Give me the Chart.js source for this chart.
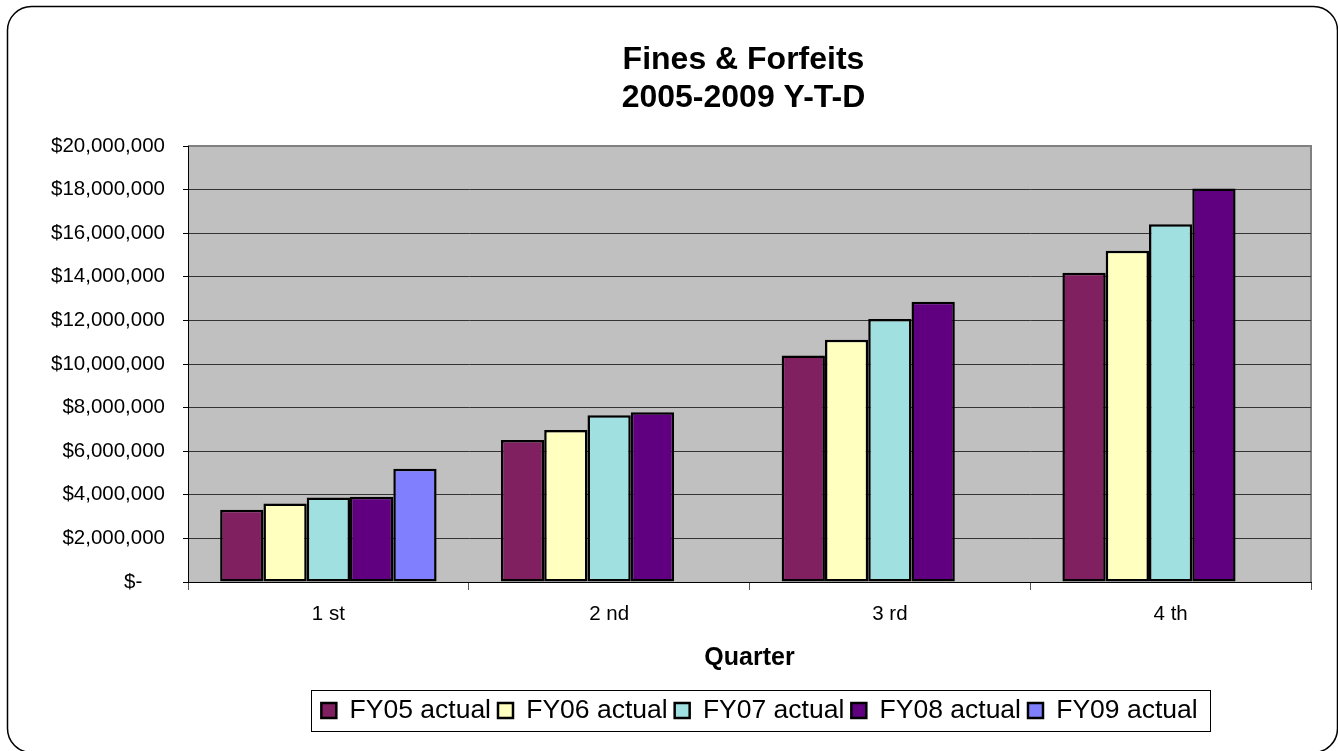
<!DOCTYPE html>
<html>
<head>
<meta charset="utf-8">
<title>Fines &amp; Forfeits</title>
<script src="https://cdn.jsdelivr.net/npm/chart.js@4"></script>
<style>
  html, body { margin: 0; padding: 0; background: #fff; }
  canvas { display: block; }
</style>
</head>
<body>
<canvas id="finesChart" width="1338" height="751"></canvas>
<script>
// Year-to-date totals per quarter, in dollars
const quarters = ['1 st', '2 nd', '3 rd', '4 th'];
const fy05 = [3310000, 6510000, 10390000, 14190000];
const fy06 = [3600000, 6970000, 11110000, 15190000];
const fy07 = [3880000, 7650000, 12060000, 16410000];
const fy08 = [3910000, 7790000, 12860000, 18050000];
const fy09 = [5200000, null, null, null];

const seriesNames = ['FY05 actual', 'FY06 actual', 'FY07 actual', 'FY08 actual', 'FY09 actual'];
const seriesColors = ['#802060', '#ffffc0', '#a0e0e0', '#600080', '#8080ff'];
const titleLines = ['Fines & Forfeits', '2005-2009 Y-T-D'];
const yMax = 20000000;
const yStep = 2000000;

const FONT = "'Liberation Sans', Arial, sans-serif";
Chart.defaults.font.family = FONT;
Chart.defaults.color = '#000';

function money(v) {
  if (v === 0) return '$-    ';
  return '$' + v.toLocaleString('en-US');
}

// white card with rounded outline, grey plot area
const background = {
  id: 'background',
  beforeDraw(chart) {
    const { ctx, chartArea: a } = chart;
    ctx.save();
    ctx.fillStyle = '#fff';
    ctx.fillRect(0, 0, chart.width, chart.height);
    ctx.strokeStyle = '#000';
    ctx.lineWidth = 1.5;
    ctx.beginPath();
    ctx.roundRect(7.5, 6.5, 1330, 746, 24);
    ctx.stroke();

    ctx.fillStyle = '#c0c0c0';
    ctx.fillRect(a.left, a.top, a.right - a.left, a.bottom - a.top);
    ctx.strokeStyle = '#808080';
    ctx.lineWidth = 2;
    ctx.beginPath();
    ctx.moveTo(a.left, a.top);
    ctx.lineTo(a.right, a.top);
    ctx.lineTo(a.right, a.bottom);
    ctx.stroke();
    ctx.restore();
  }
};

// title and legend sit a little off the canvas centre
function recenter(box, cx) {
  const half = (box.right - box.left) / 2;
  box.left = cx - half;
  box.right = cx + half;
}
const shiftBlocks = {
  id: 'shiftBlocks',
  afterLayout(chart) {
    const mid = (chart.chartArea.left + chart.chartArea.right) / 2;
    recenter(chart.titleBlock, mid - 6);
    recenter(chart.legend, mid + 10);
  }
};

// framed legend
const legendFrame = {
  id: 'legendFrame',
  afterDraw(chart) {
    const boxes = chart.legend.legendHitBoxes;
    if (!boxes || !boxes.length) return;
    const left = Math.min(...boxes.map(b => b.left)) - 10;
    const right = Math.max(...boxes.map(b => b.left + b.width)) + 13;
    const top = boxes[0].top - 7;
    const bottom = boxes[0].top + boxes[0].height + 7;
    const ctx = chart.ctx;
    ctx.save();
    ctx.strokeStyle = '#000';
    ctx.lineWidth = 1;
    ctx.strokeRect(Math.round(left) + 0.5, Math.round(top) + 0.5, Math.round(right - left), Math.round(bottom - top));
    ctx.restore();
  }
};

const seriesData = [fy05, fy06, fy07, fy08, fy09];

new Chart(document.getElementById('finesChart'), {
  type: 'bar',
  data: {
    labels: quarters,
    datasets: seriesData.map((d, i) => ({
      label: seriesNames[i],
      data: d,
      backgroundColor: seriesColors[i],
      borderColor: '#000',
      borderWidth: 2.5,
      borderSkipped: false,
      categoryPercentage: 0.771,
      barPercentage: 1.0
    }))
  },
  options: {
    responsive: false,
    animation: false,
    layout: { padding: { left: 0, right: 27, top: 0, bottom: 17.25 } },
    plugins: {
      title: {
        display: true,
        text: titleLines,
        color: '#000',
        font: { size: 32, weight: 'bold', lineHeight: 1.2 },
        padding: { top: 41, bottom: 28.2 }
      },
      legend: {
        position: 'bottom',
        labels: {
          color: '#000',
          font: { size: 26.5 },
          boxWidth: 15,
          boxHeight: 15,
          padding: 7
        }
      },
      tooltip: { enabled: false }
    },
    scales: {
      x: {
        grid: {
          offset: true,
          drawOnChartArea: false,
          drawTicks: true,
          tickLength: 8,
          tickColor: '#555'
        },
        border: { color: '#000', width: 1 },
        ticks: { color: '#000', font: { size: 20.5 }, padding: 12 },
        title: {
          display: true,
          text: 'Quarter',
          color: '#000',
          font: { size: 25, weight: 'bold', lineHeight: 1.2 },
          padding: { top: 17, bottom: 17 }
        },
        afterFit(scale) { scale.height = 108.25; }
      },
      y: {
        min: 0,
        max: yMax,
        grid: {
          color: ctx => (ctx.tick && ctx.tick.value === yMax ? '#808080' : '#333'),
          lineWidth: 1,
          drawTicks: true,
          tickLength: 5,
          tickColor: '#000'
        },
        border: { color: '#000', width: 1 },
        ticks: {
          stepSize: yStep,
          color: '#000',
          font: { size: 20.5 },
          padding: 18,
          callback: v => money(v)
        },
        afterFit(scale) { scale.width = 188; }
      }
    }
  },
  plugins: [background, shiftBlocks, legendFrame]
});
</script>
</body>
</html>
